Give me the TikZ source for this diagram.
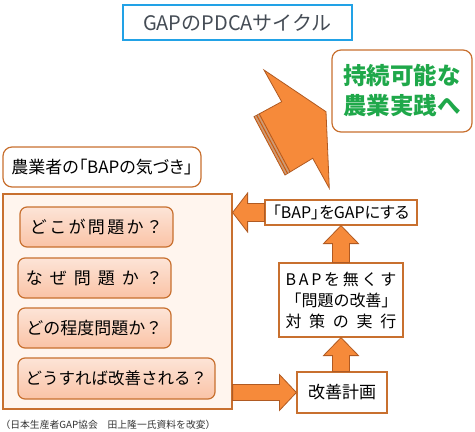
\documentclass[tikz,border=0pt]{standalone}
\usepackage{fontspec}
\setmainfont{Noto Sans CJK JP}
\usepackage{xcolor}
\usetikzlibrary{calc}
\definecolor{arroworange}{HTML}{F68A3A}
\definecolor{arrowedge}{HTML}{B05A22}
\definecolor{boxedge}{HTML}{C8702F}
\definecolor{panelfill}{HTML}{FFF5EE}
\definecolor{optfill}{HTML}{FAC3A6}
\definecolor{goalgreen}{HTML}{1FA84A}
\definecolor{titleblue}{HTML}{22A2E6}
\definecolor{titletext}{HTML}{454C55}
\tikzset{
  roundbox/.style={draw=boxedge, line width=1.2pt, rounded corners=9pt, fill=white},
  optbox/.style={draw=boxedge, line width=1.2pt, rounded corners=7pt,
    top color=optfill!45, bottom color=optfill, minimum height=40pt,
    font=\fontsize{17}{20}\selectfont},
  stepbox/.style={draw=boxedge, line width=1.2pt, fill=white, inner sep=0pt},
  blockarrow/.style={fill=arroworange, draw=arrowedge, line width=0.8pt, line join=miter},
  narrow/.style={font=\addfontfeature{RawFeature=+palt}\fontsize{#1}{20}\selectfont},
}

\begin{document}
\begin{tikzpicture}[x=1pt, y=-1pt, font=\fontsize{16}{20}\selectfont]
  \useasboundingbox (0,0) rectangle (475,432);
  % title
  \node[draw=titleblue, line width=1.6pt, minimum width=229pt, minimum height=35pt,
    text=titletext, font=\fontsize{20}{22}\selectfont] (title) at (237.5,22.5) {GAPのPDCAサイクル};
  % big arrow towards the goal
  \draw[blockarrow] (264,70) -- (281.7,101.7) -- (254,116.7) -- (285,175)
    -- (312.7,158.3) -- (329.3,188.3) -- (326,111.7) -- cycle;
  \foreach \d in {3,6}
    \draw[arrowedge, line width=0.8pt] ($(254,116.7)+(0.879*\d,-0.476*\d)$) -- ($(285,175)+(0.857*\d,-0.517*\d)$);
  \foreach \d in {1.5,4.5}
    \draw[gray!70, line width=0.6pt] ($(254,116.7)+(0.879*\d,-0.476*\d)$) -- ($(285,175)+(0.857*\d,-0.517*\d)$);
  \node[roundbox, minimum width=140pt, minimum height=82pt, align=center, text=goalgreen,
    font=\bfseries\fontsize{23.5}{30}\selectfont] (goal) at (402,91) {持続可能な\\農業実践へ};
  % farmer's awareness
  \node[roundbox, minimum width=198pt, minimum height=40pt, narrow=17] (notice) at (102,167)
    {農業者の「BAPの気づき」};
  \node[draw=boxedge, line width=1.2pt, fill=panelfill, minimum width=229pt,
    minimum height=215pt] (panel) at (117.5,301.5) {};
  \node[optbox, minimum width=153pt] (q1) at (96.5,227)
    {\makebox[133pt][s]{ど\hfill こ\hfill が\hfill 問\hfill 題\hfill か\hfill ？}};
  \node[optbox, minimum width=153pt] (q2) at (94.5,278)
    {\makebox[137pt][s]{な\hfill ぜ\hfill 問\hfill 題\hfill か\hfill ？}};
  \node[optbox, minimum width=153pt] (q3) at (94.5,328) {どの程度問題か？};
  \node[optbox, minimum width=197pt, minimum height=41pt] (q4) at (116.5,378.5)
    {\fontsize{16.5}{20}\selectfont どうすれば改善される？};
  \node[text=black!80, font=\fontsize{9.8}{12}\selectfont] (source) at (108,425)
    {（日本生産者GAP協会　田上隆一氏資料を改変）};
  % cycle steps
  \node[stepbox, minimum width=152pt, minimum height=25pt, narrow=16] (gap) at (341,212.5)
    {「BAP」をGAPにする};
  \node[stepbox, minimum width=124pt, minimum height=74pt, align=center,
    font=\fontsize{16}{21}\selectfont] (action) at (341,300)
    {\makebox[111pt][s]{B\hfill A\hfill P\hfill を\hfill 無\hfill く\hfill す}\\
     \makebox[111pt][s]{「\hfill 問\hfill 題\hfill の\hfill 改\hfill 善\hfill 」}\\
     \makebox[111pt][s]{対\hfill 策\hfill の\hfill 実\hfill 行}};
  \node[stepbox, minimum width=90pt, minimum height=41pt, font=\fontsize{17}{20}\selectfont]
    (plan) at (342,392.5) {改善計画};
  % block arrows
  \draw[blockarrow] ($(panel.east |- plan.west)+(0,-8)$) -- ($(plan.west)+(-17,-8)$)
    -- ($(plan.west)+(-17,-18)$) -- (plan.west) -- ($(plan.west)+(-17,18)$)
    -- ($(plan.west)+(-17,8)$) -- ($(panel.east |- plan.west)+(0,8)$) -- cycle;
  \draw[blockarrow] ($(action.south |- plan.north)+(-8.5,0)$) -- ($(action.south)+(-8.5,18)$)
    -- ($(action.south)+(-17.5,18)$) -- (action.south) -- ($(action.south)+(17.5,18)$)
    -- ($(action.south)+(8.5,18)$) -- ($(action.south |- plan.north)+(8.5,0)$) -- cycle;
  \draw[blockarrow] ($(action.north)+(-8.5,0)$) -- ($(gap.south)+(-8.5,18)$)
    -- ($(gap.south)+(-17.5,18)$) -- (gap.south) -- ($(gap.south)+(17.5,18)$)
    -- ($(gap.south)+(8.5,18)$) -- ($(action.north)+(8.5,0)$) -- cycle;
  \draw[blockarrow] ($(gap.west)+(0,-9)$) -- ($(panel.east |- gap.west)+(15,-9)$)
    -- ($(panel.east |- gap.west)+(15,-19.5)$) -- (panel.east |- gap.west)
    -- ($(panel.east |- gap.west)+(15,19.5)$) -- ($(panel.east |- gap.west)+(15,9)$)
    -- ($(gap.west)+(0,9)$) -- cycle;
\end{tikzpicture}
\end{document}
